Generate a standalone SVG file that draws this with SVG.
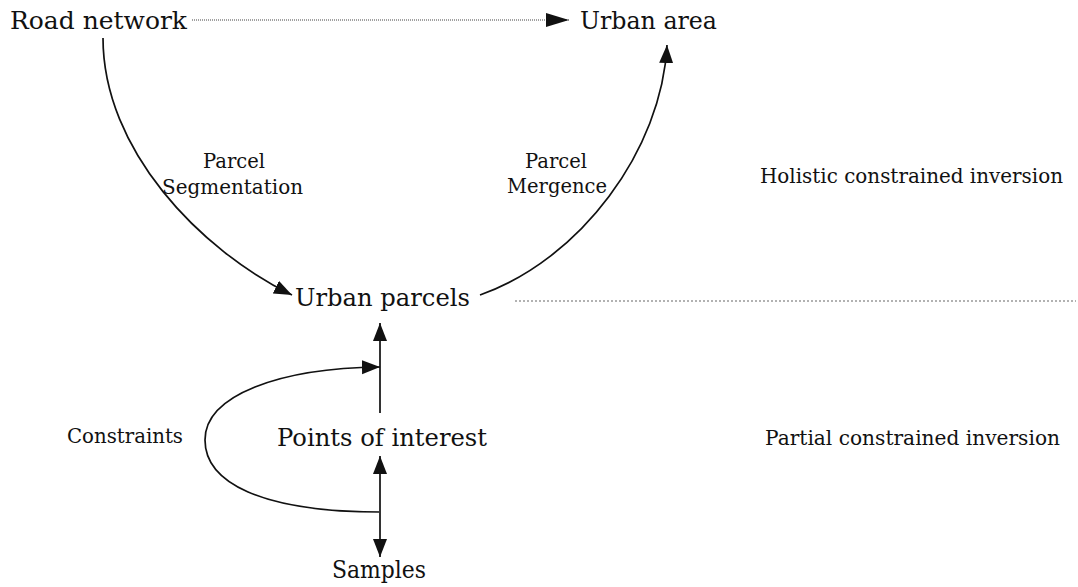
<svg xmlns="http://www.w3.org/2000/svg" width="1078" height="587" viewBox="0 0 1078 587">
  <style>
    text { font-family: "DejaVu Serif", "Liberation Serif", serif; fill: #111; }
    .big { font-size: 24px; }
    .mid { font-size: 20.5px; }
    .small { font-size: 19.5px; }
    .edge { fill: none; stroke: #111; stroke-width: 1.7; }
    .vert { fill: none; stroke: #333; stroke-width: 2; }
    .dot { fill: none; stroke: #444; stroke-width: 1.2; stroke-dasharray: 1 1; }
    .sep { fill: none; stroke: #999; stroke-width: 1.6; stroke-dasharray: 2 2; }
  </style>
  <defs>
    <marker id="ah" markerUnits="userSpaceOnUse" markerWidth="20" markerHeight="15" refX="18" refY="7" orient="auto">
      <path d="M0,0 L18,7 L0,14 z" fill="#111"/>
    </marker>
    <marker id="ahl" markerUnits="userSpaceOnUse" markerWidth="24" markerHeight="15" refX="23" refY="7" orient="auto">
      <path d="M0,0 L23,7 L0,14 z" fill="#111"/>
    </marker>
  </defs>

  <g id="connectors">
    <path class="dot" d="M192,20 L569,20" marker-end="url(#ahl)"/>
    <path class="edge" d="M103,38 C103,150 200,250 292,295" marker-end="url(#ah)"/>
    <path class="edge" d="M480,295 C580,260 662,150 667,45" marker-end="url(#ah)"/>
    <path class="vert" d="M380,413 L380,323" marker-end="url(#ah)"/>
    <path class="edge" d="M380,512 C260,512 205,482 205,440 C205,395 280,368 380,367" marker-end="url(#ah)"/>
    <path class="vert" d="M380,512 L380,456" marker-end="url(#ah)"/>
    <path class="vert" d="M380,512 L380,557" marker-end="url(#ah)"/>
    <path class="sep" d="M515,301 L1076,301"/>
  </g>

  <g id="road-network"><text class="big" x="10" y="29" textLength="177" lengthAdjust="spacingAndGlyphs">Road network</text></g>
  <g id="urban-area"><text class="big" x="580" y="29" textLength="137" lengthAdjust="spacingAndGlyphs">Urban area</text></g>
  <g id="urban-parcels"><text class="big" x="295" y="306" textLength="175" lengthAdjust="spacingAndGlyphs">Urban parcels</text></g>
  <g id="points-of-interest"><text class="big" x="277" y="446" textLength="210" lengthAdjust="spacingAndGlyphs">Points of interest</text></g>
  <g id="samples"><text class="big" x="332" y="578" textLength="94" lengthAdjust="spacingAndGlyphs">Samples</text></g>
  <g id="constraints-label"><text class="mid" x="67" y="443" textLength="116" lengthAdjust="spacingAndGlyphs">Constraints</text></g>
  <g id="segmentation-label">
    <text class="small" x="203" y="168" textLength="62" lengthAdjust="spacingAndGlyphs">Parcel</text>
    <text class="small" x="162" y="194" textLength="141" lengthAdjust="spacingAndGlyphs">Segmentation</text>
  </g>
  <g id="mergence-label">
    <text class="small" x="525" y="168" textLength="62" lengthAdjust="spacingAndGlyphs">Parcel</text>
    <text class="small" x="507" y="193" textLength="100" lengthAdjust="spacingAndGlyphs">Mergence</text>
  </g>
  <g id="holistic"><text class="mid" x="760" y="183" textLength="303" lengthAdjust="spacingAndGlyphs">Holistic constrained inversion</text></g>
  <g id="partial"><text class="mid" x="765" y="445" textLength="295" lengthAdjust="spacingAndGlyphs">Partial constrained inversion</text></g>
</svg>
